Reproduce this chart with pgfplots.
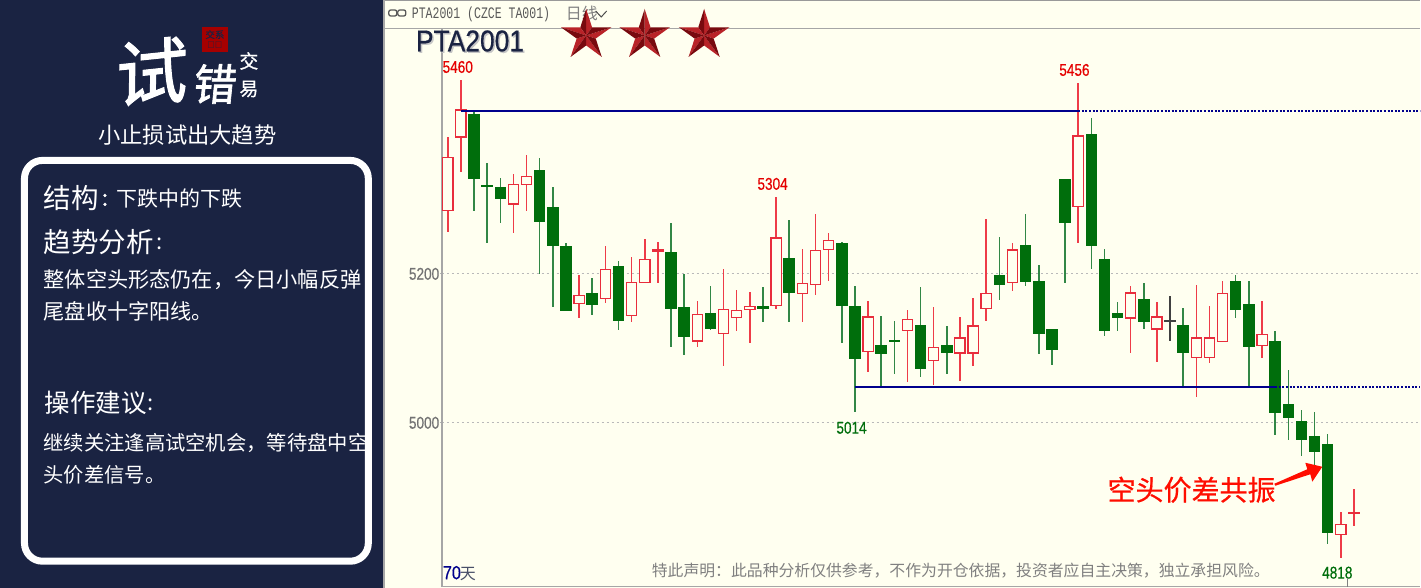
\documentclass[border=0pt]{standalone}
\usepackage{pgfplots}
\usepackage{pgfplotstable}
\usepackage{fontspec}
\pgfplotsset{compat=1.18}
\setmainfont{Liberation Sans}
\newfontfamily\cjk{Noto Sans CJK SC}
\newfontfamily\cjkb[FakeBold=1.5]{Noto Sans CJK SC}
\newfontfamily\cjkm[FakeBold=0.6]{Noto Sans CJK SC}
\newfontfamily\fb[FakeBold=0.5]{Liberation Sans}
\newfontfamily\monof{Liberation Mono}
\definecolor{panel}{RGB}{26,35,66}
\definecolor{ivory}{RGB}{255,255,240}
\definecolor{cgreen}{RGB}{0,110,12}
\definecolor{wgreen}{RGB}{50,135,70}
\definecolor{cred}{RGB}{232,45,60}
\definecolor{wred}{RGB}{238,60,72}
\definecolor{lblue}{RGB}{0,0,140}
\definecolor{star1}{RGB}{185,35,40}
\definecolor{star2}{RGB}{120,10,15}
\newcommand{\fs}[1]{\fontsize{#1}{#1}\selectfont}
\newcommand{\cm}{\char"FF0C\relax}
\newcommand{\cl}{\char"FF1A\relax}

% i high bodytop bodybottom low
\pgfplotstableread{
i hi top bot low
1 5460 5421 5383 5337
0 5384 5357 5284 5257
5 5334 5321 5293 5255
6 5360 5332 5319 5285
10 5199 5172 5159 5141
12 5238 5207 5166 5161
14 5223 5189 5143 5135
15 5247 5220 5188 5188
16 5243 5233 5230 5188
19 5164 5146 5109 5102
21 5206 5153 5119 5077
22 5179 5152 5141 5124
23 5175 5157 5152 5107
25 5304 5249 5157 5153
27 5233 5188 5173 5135
28 5281 5232 5185 5171
29 5255 5246 5232 5190
32 5164 5143 5095 5069
35 5152 5140 5123 5055
37 5156 5102 5083 5051
39 5142 5115 5093 5056
40 5168 5131 5093 5077
41 5274 5175 5153 5137
43 5242 5233 5188 5177
48 5456 5386 5290 5241
52 5184 5175 5140 5094
54 5162 5143 5125 5082
57 5185 5115 5087 5035
58 5157 5115 5087 5081
59 5190 5175 5108 5108
62 5164 5119 5103 5087
68 4880 4864 4849 4818
69 4911 4880 4878 4862
}\upcandles
\pgfplotstableread{
i hi top bot low
2 5417 5415 5328 5284
3 5349 5319 5317 5242
4 5329 5317 5301 5268
7 5356 5340 5270 5200
8 5317 5290 5237 5156
9 5242 5238 5150 5150
11 5195 5174 5158 5145
13 5217 5211 5137 5125
17 5268 5230 5153 5102
18 5200 5156 5115 5091
20 5184 5147 5126 5125
24 5183 5157 5153 5136
26 5272 5221 5174 5136
30 5243 5242 5157 5107
31 5184 5157 5086 5014
33 5144 5105 5093 5048
34 5137 5111 5108 5065
36 5183 5131 5072 5062
38 5130 5105 5094 5065
42 5249 5198 5185 5165
44 5281 5239 5189 5184
45 5212 5190 5120 5093
46 5126 5126 5098 5077
47 5328 5328 5269 5188
49 5409 5388 5237 5206
50 5234 5220 5123 5117
51 5162 5148 5141 5123
53 5188 5166 5136 5126
56 5154 5132 5094 5048
60 5199 5191 5151 5141
61 5190 5159 5102 5048
63 5124 5110 5013 4984
64 5071 5026 5006 4977
65 5017 5002 4977 4955
66 5014 4982 4961 4941
67 4985 4972 4852 4837
}\downcandles
\pgfplotstableread{
i hi top bot low
55 5170 5138 5136 5110
}\flatcandles

\begin{document}
\begin{tikzpicture}
\begin{scope}[x=1pt,y=-1pt]
  \path[use as bounding box] (0,0) rectangle (1421,588);
  \fill[ivory] (0,0) rectangle (1421,588);
  \fill[panel] (0,0) rectangle (383,588);
  \fill[gray!70] (383,0) rectangle (385,588);
  % header
  \draw[gray!80,line width=1pt] (385,1) -- (1421,1);
  \draw[gray!70,line width=1pt] (385,28.5) -- (1421,28.5);
\end{scope}

\begin{axis}[
  at={(442pt,-587pt)}, anchor=south west,
  scale only axis, width=979pt, height=558pt,
  xmin=-0.4566, xmax=74.05, ymin=4779.9, ymax=5528.9,
  axis y line*=left, axis x line*=bottom,
  axis line style={gray!70, line width=1.5pt, -},
  xtick=\empty, ytick={5000,5200},
  tick style={gray!60, line width=0.8pt},
  major tick length=2pt, tick align=outside,
  ymajorgrids, grid style={gray!55, dash pattern=on 2pt off 3pt, line width=0.8pt},
  yticklabel style={font=\fb\fs{17}, text=gray!90!black, xscale=.8, inner sep=0.5pt},
  /pgf/number format/assume math mode=true,
  /pgf/number format/1000 sep={},
  clip=true,
  error bars/y dir=both, error bars/y explicit, error bars/error mark=none,
  candle/.style={draw=none, no markers, forget plot},
]
% wicks
\addplot[candle, error bars/error bar style={draw=wred, line width=1.5pt}]
  table[x=i, y expr=(\thisrow{hi}+\thisrow{low})/2, y error expr=(\thisrow{hi}-\thisrow{low})/2] {\upcandles};
\addplot[candle, error bars/error bar style={draw=wgreen, line width=1.5pt}]
  table[x=i, y expr=(\thisrow{hi}+\thisrow{low})/2, y error expr=(\thisrow{hi}-\thisrow{low})/2] {\downcandles};
\addplot[candle, error bars/error bar style={draw=black!75, line width=1.3pt}]
  table[x=i, y expr=(\thisrow{hi}+\thisrow{low})/2, y error expr=(\thisrow{hi}-\thisrow{low})/2] {\flatcandles};
% bodies
\addplot[candle, error bars/error bar style={draw=cgreen, line width=11.5pt}]
  table[x=i, y expr=(\thisrow{top}+\thisrow{bot})/2, y error expr=(\thisrow{top}-\thisrow{bot})/2] {\downcandles};
\addplot[candle, error bars/error bar style={draw=cred, line width=11.5pt}]
  table[x=i, y expr=(\thisrow{top}+\thisrow{bot})/2, y error expr=(\thisrow{top}-\thisrow{bot})/2] {\upcandles};
\addplot[candle, error bars/error bar style={draw=ivory, line width=9pt}]
  table[x=i, y expr=(\thisrow{top}+\thisrow{bot})/2, y error expr={max((\thisrow{top}-\thisrow{bot})/2-1.7,0)}] {\upcandles};
\addplot[candle, error bars/error bar style={draw=black!75, line width=11.5pt}]
  table[x=i, y expr=(\thisrow{top}+\thisrow{bot})/2, y error expr=(\thisrow{top}-\thisrow{bot})/2] {\flatcandles};
% support and resistance
\addplot[lblue, line width=2.2pt] coordinates {(1,5419) (48,5419)};
\addplot[lblue, line width=2.2pt, dash pattern=on 2pt off 1.6pt] coordinates {(48,5419) (74.05,5419)};
\addplot[lblue, line width=2.2pt] coordinates {(31,5048) (63,5048)};
\addplot[lblue, line width=2.2pt, dash pattern=on 2pt off 1.6pt] coordinates {(63,5048) (74.05,5048)};
\end{axis}

\begin{scope}[x=1pt,y=-1pt, every node/.style={inner sep=0pt}]
  % header content
  \draw[gray!70!black,line width=1.3pt,rounded corners=2pt] (389,10) rectangle (397,16);
  \draw[gray!70!black,line width=1.3pt,rounded corners=2pt] (398,10) rectangle (406,16);
  \node[anchor=west,text=black!65,xscale=.72] at (412,14) {\monof\fs{16}PTA2001 (CZCE TA001)};
  \node[anchor=west,text=gray] at (566,13) {\cjk\fs{16}日线};
  \draw[black!70,line width=1pt] (596,11) -- (601.5,17) -- (607,11);
  % big title
  \node[anchor=west,text=gray!45,xscale=.88] at (417.5,42.5) {\fb\fs{30}PTA2001};
  \node[anchor=west,text=panel,xscale=.88] at (416,41) {\fb\fs{30}PTA2001};
  % stars
  \foreach \cx in {586.5,645,704.5} {
    \foreach \k in {0,...,4} {
      \pgfmathsetmacro\a{-90+72*\k}
      \fill[star1] (\cx,35.5) -- ++(\a:26.5) -- ([shift={(\cx,35.5)}]\a+36:10) -- cycle;
      \fill[star2] (\cx,35.5) -- ++(\a:26.5) -- ([shift={(\cx,35.5)}]\a-36:10) -- cycle;
    }
  }
  % value labels
  \node[text=red!90!black,xscale=.8] at (458,67) {\fb\fs{17}5460};
  \node[text=red!90!black,xscale=.8] at (1075,70) {\fb\fs{17}5456};
  \node[text=red!90!black,xscale=.8] at (773,184) {\fb\fs{17}5304};
  \node[text=cgreen,xscale=.8] at (852,428) {\fb\fs{17}5014};
  \node[text=cgreen,xscale=.8] at (1338,573) {\fb\fs{17}4818};
  \draw[gray,line width=1pt] (1348,578) -- (1348,587);
  % notes
  \node[anchor=west,text=lblue,xscale=.85] at (443,573) {\fb\fs{19}70};
  \node[anchor=west,text=panel!80] at (460,574) {\cjk\fs{16}天};
  \node[anchor=west,text=gray] at (652,571) {\cjk\fs{15.85}特此声明\cl 此品种分析仅供参考\cm 不作为开仓依据\cm 投资者应自主决策\cm 独立承担风险。};
  % annotation
  \node[anchor=west,text=red!90!orange] at (1108,490) {\cjkm\fs{28}空头价差共振};
  \fill[red!90!orange] (1275,484) -- (1308,469.5) -- (1306,463) -- (1323,467) -- (1313,482) -- (1311,474.5) -- (1276,486) -- cycle;

  % left panel
  \node[text=white,rotate=6,xslant=.12] at (152,72) {\cjkb\fs{72}试};
  \node[text=white,xslant=.1] at (215.5,84) {\cjkb\fs{43}错};
  \node[text=white] at (249,61) {\cjkm\fs{19}交};
  \node[text=white] at (249,89) {\cjkm\fs{19}易};
  \fill[red!65!black] (202,27) rectangle (228,52);
  \node[text=panel,align=center] at (215,39.5) {\cjkm\fs{9.5}交系\\[-1.5pt]易统};
  \node[text=white] at (187.5,135) {\cjk\fs{22.3}小止损试出大趋势};
  \draw[white,line width=7pt,rounded corners=18pt] (24.5,160.5) rectangle (368.5,561.5);
  \node[anchor=west,text=white] at (43.5,198) {\cjk\fs{27.5}结构};
  \node[text=white] at (105,200) {\cjkb\fs{22}:};
  \node[anchor=west,text=white] at (116,198.5) {\cjk\fs{21}下跌中的下跌};
  \node[anchor=west,text=white] at (43.5,242) {\cjk\fs{27.5}趋势分析};
  \node[text=white] at (160,244) {\cjk\fs{22}:};
  \node[anchor=west,text=white] at (43.5,280) {\cjk\fs{21.2}整体空头形态仍在\cm 今日小幅反弹};
  \node[anchor=west,text=white] at (43.5,312) {\cjk\fs{21.2}尾盘收十字阳线。};
  \node[anchor=west,text=white] at (44.5,403) {\cjk\fs{25.5}操作建议};
  \node[text=white] at (151,405) {\cjk\fs{22}:};
  \begin{scope}
    \clip (30,425) rectangle (365,460);
    \node[anchor=west,text=white] at (43.5,443) {\cjk\fs{20.3}继续关注逢高试空机会\cm 等待盘中空};
  \end{scope}
  \node[anchor=west,text=white] at (43.5,475) {\cjk\fs{20.3}头价差信号。};
\end{scope}
\end{tikzpicture}
\end{document}
